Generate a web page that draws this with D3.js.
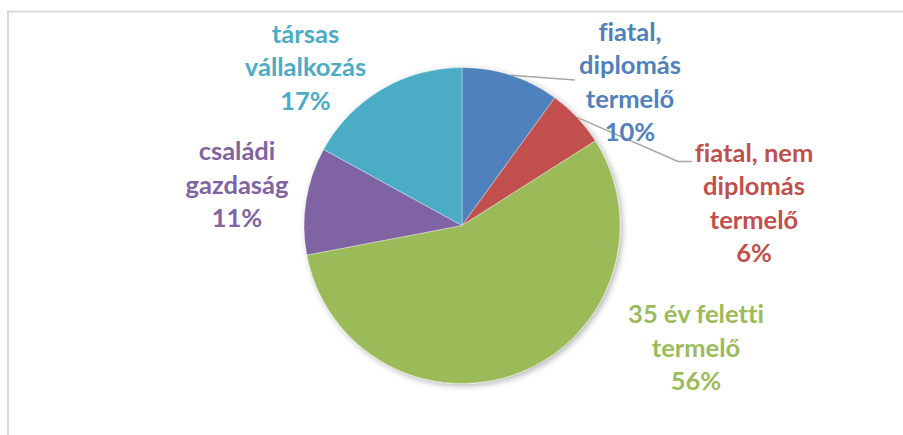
<!DOCTYPE html>
<html>
<head>
<meta charset="utf-8">
<script src="https://cdn.jsdelivr.net/npm/d3@7"></script>
<style>
  html, body { margin: 0; padding: 0; background: #ffffff; }
  svg { display: block; }
  .lbl { font-family: Lato, "Open Sans", sans-serif; font-weight: 700;
         font-variant-ligatures: none; font-feature-settings: "liga" 0; }
</style>
</head>
<body>
<svg id="chart" width="903" height="435"></svg>
<script>
// Termelők megoszlása gazdálkodási forma szerint (%)
const categories = [
  "fiatal, diplomás termelő",
  "fiatal, nem diplomás termelő",
  "35 év feletti termelő",
  "családi gazdaság",
  "társas vállalkozás"
];
const shares = [10, 6, 56, 11, 17];
// label lines as they are broken in the chart
const labelLines = [
  ["fiatal,", "diplomás", "termelő"],
  ["fiatal, nem", "diplomás", "termelő"],
  ["35 év feletti", "termelő"],
  ["családi", "gazdaság"],
  ["társas", "vállalkozás"]
];
const colors = ["#4F81BD", "#C0504D", "#9BBB59", "#8064A2", "#4BACC6"];

// layout
const W = 903, H = 435;
const cx = 462, cy = 225.5, R = 158;
const lineGap = 33.5;
const fontSize = 25.5;
// label block anchor: centre x and first baseline, plus optional leader end
const labelLayout = [
  { x: 630, y: 40.7, leader: [[575, 80]] },
  { x: 754, y: 161.7, leader: [[678, 161.5], [692, 161.5]] },
  { x: 696, y: 323.3 },
  { x: 237, y: 160 },
  { x: 305.5, y: 42.7 }
];

const svg = d3.select("#chart");

// chart area frame
svg.append("rect")
  .attr("x", 8).attr("y", 11.5)
  .attr("width", W + 10).attr("height", H + 10)
  .attr("fill", "#ffffff")
  .attr("stroke", "#D9D9D9")
  .attr("stroke-width", 2);

const defs = svg.append("defs");
const f = defs.append("filter").attr("id", "pieShadow")
  .attr("x", "-20%").attr("y", "-20%").attr("width", "140%").attr("height", "140%");
f.append("feDropShadow")
  .attr("dx", 2).attr("dy", 2).attr("stdDeviation", 3)
  .attr("flood-color", "#000").attr("flood-opacity", 0.3);

const data = categories.map((c, i) => ({ name: c, value: shares[i], color: colors[i], lines: labelLines[i], layout: labelLayout[i] }));

const pie = d3.pie().value(d => d.value).sort(null)
  .startAngle(0).endAngle(2 * Math.PI);
const arcs = pie(data);
const arc = d3.arc().innerRadius(0).outerRadius(R);

const g = svg.append("g").attr("transform", `translate(${cx},${cy})`);
const slices = g.append("g").attr("filter", "url(#pieShadow)");
slices.selectAll("path")
  .data(arcs)
  .join("path")
  .attr("d", arc)
  .attr("fill", d => d.data.color)
  .attr("stroke", "#ffffff")
  .attr("stroke-width", 0.6)
  .attr("stroke-opacity", 0.6);

// leader lines from the slice's outer midpoint
arcs.forEach(d => {
  const lay = d.data.layout;
  if (!lay.leader) return;
  const mid = (d.startAngle + d.endAngle) / 2;
  const start = [cx + R * Math.sin(mid), cy - R * Math.cos(mid)];
  const pts = [start].concat(lay.leader);
  svg.append("path")
    .attr("d", d3.line()(pts))
    .attr("fill", "none")
    .attr("stroke", "#A6A6A6")
    .attr("stroke-width", 1.5);
});

// data labels
arcs.forEach(d => {
  const lay = d.data.layout;
  const lines = d.data.lines.concat([d.data.value + "%"]);
  const t = svg.append("text")
    .attr("class", "lbl")
    .attr("text-anchor", "middle")
    .attr("font-size", fontSize)
    .attr("fill", d.data.color);
  lines.forEach((ln, i) => {
    t.append("tspan")
      .attr("x", lay.x)
      .attr("y", lay.y + i * lineGap)
      .text(ln);
  });
});
</script>
</body>
</html>
